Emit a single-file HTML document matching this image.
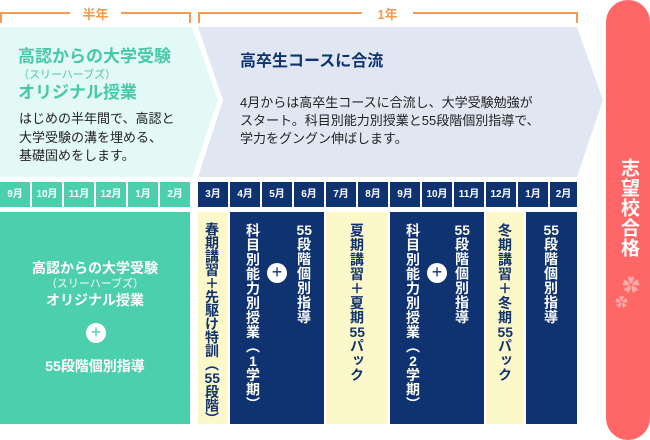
<!DOCTYPE html>
<html><head><meta charset="utf-8"><style>
*{margin:0;padding:0;box-sizing:border-box}
body{width:650px;height:440px;position:relative;background:#fff;font-family:"Liberation Sans","Noto Sans CJK JP",sans-serif;overflow:hidden}
.a{position:absolute}
.m{position:absolute;top:182px;height:25px;width:30px;color:#fff;font-size:10px;font-weight:bold;text-align:center;line-height:25px}
.g{background:#4bcfad}.n{background:#0f3270}.y{background:#fdf8c9}
.v{position:absolute;writing-mode:vertical-rl;text-orientation:upright;font-size:14px;font-weight:bold;line-height:16px;letter-spacing:0.5px;white-space:nowrap}
.tc{text-combine-upright:all}
.pl{position:absolute;width:20px;height:20px;border-radius:50%;background:#fff;color:#0f3270;font-size:18px;line-height:19px;text-align:center}
</style></head><body>
<svg class="a" style="left:0;top:0" width="650" height="440">
<polyline points="1,23 1,13 70,13" fill="none" stroke="#f79a4c" stroke-width="2"/>
<polyline points="121,13 190,13 190,23" fill="none" stroke="#f79a4c" stroke-width="2"/>
<polyline points="199,23 199,13 362,13" fill="none" stroke="#f79a4c" stroke-width="2"/>
<polyline points="413,13 577,13 577,23" fill="none" stroke="#f79a4c" stroke-width="2"/>
<polygon points="0,27 192,27 218,100 192,177 0,177" fill="#e3f9f5"/>
<polygon points="198,27 577,27 603,100 577,177 198,177 223,100" fill="#e0e7f2"/>
</svg>
<div class="a" style="left:70px;top:4px;width:51px;text-align:center;color:#f79a4c;font-size:13px;font-weight:bold">半年</div>
<div class="a" style="left:362px;top:4px;width:51px;text-align:center;color:#f79a4c;font-size:13px;font-weight:bold">1年</div>
<div class="a" style="left:18px;top:46px;color:#47c9a6;font-weight:bold;font-size:17px;line-height:22px">高認からの大学受験<br><span style="font-size:11px;font-weight:normal;line-height:14px;display:block">（スリーハーブズ）</span>オリジナル授業</div>
<div class="a" style="left:19px;top:110px;color:#222;font-size:13px;line-height:18.5px">はじめの半年間で、高認と<br>大学受験の溝を埋める、<br>基礎固めをします。</div>
<div class="a" style="left:240px;top:47px;color:#0f3270;font-weight:bold;font-size:16px">高卒生コースに合流</div>
<div class="a" style="left:240px;top:94px;color:#222;font-size:13px;line-height:18px">4月からは高卒生コースに合流し、大学受験勉強が<br>スタート。科目別能力別授業と55段階個別指導で、<br>学力をグングン伸ばします。</div>

<div class="m g" style="left:0">9月</div><div class="m g" style="left:32px">10月</div><div class="m g" style="left:64px">11月</div><div class="m g" style="left:96px">12月</div><div class="m g" style="left:128px">1月</div><div class="m g" style="left:160px">2月</div>
<div class="m n" style="left:198px">3月</div><div class="m n" style="left:230px">4月</div><div class="m n" style="left:262px">5月</div><div class="m n" style="left:294px">6月</div><div class="m n" style="left:326px">7月</div><div class="m n" style="left:358px">8月</div><div class="m n" style="left:390px">9月</div><div class="m n" style="left:422px">10月</div><div class="m n" style="left:454px">11月</div><div class="m n" style="left:486px">12月</div><div class="m n" style="left:518px">1月</div><div class="m n" style="left:550px;width:27px">2月</div>

<div class="a g" style="left:0;top:212px;width:190px;height:212px"></div>
<div class="a" style="left:0;top:259px;width:190px;text-align:center;color:#fff;font-weight:bold;font-size:14px;line-height:18px">高認からの大学受験<br><span style="font-size:11px;font-weight:normal;line-height:14px;display:block">（スリーハーブズ）</span>オリジナル授業</div>
<div class="pl" style="left:86px;top:323px;color:#4bcfad">+</div>
<div class="a" style="left:0;top:356px;width:190px;text-align:center;color:#fff;font-weight:bold;font-size:14px">55段階個別指導</div>

<div class="a y" style="left:198px;top:212px;width:30px;height:212px"></div>
<div class="a n" style="left:230px;top:212px;width:94px;height:212px"></div>
<div class="a y" style="left:326px;top:212px;width:62px;height:212px"></div>
<div class="a n" style="left:390px;top:212px;width:94px;height:212px"></div>
<div class="a y" style="left:486px;top:212px;width:38px;height:212px"></div>
<div class="a n" style="left:526px;top:212px;width:51px;height:212px"></div>

<div class="v" style="left:205px;top:222px;color:#0f3270;line-height:14px;letter-spacing:-0.5px">春期講習＋先駆け特訓（<span class="tc">55</span>段階）</div>
<div class="v" style="left:245px;top:223px;color:#fff">科目別能力別授業（<span class="tc">1</span>学期）</div>
<div class="pl" style="left:267px;top:263px">+</div>
<div class="v" style="left:296px;top:223px;color:#fff"><span class="tc">55</span>段階個別指導</div>
<div class="v" style="left:349px;top:223px;color:#0f3270">夏期講習＋夏期<span class="tc">55</span>パック</div>
<div class="v" style="left:405px;top:223px;color:#fff">科目別能力別授業（<span class="tc">2</span>学期）</div>
<div class="pl" style="left:427px;top:263px">+</div>
<div class="v" style="left:454px;top:223px;color:#fff"><span class="tc">55</span>段階個別指導</div>
<div class="v" style="left:497px;top:223px;color:#0f3270">冬期講習＋冬期<span class="tc">55</span>パック</div>
<div class="v" style="left:543px;top:223px;color:#fff"><span class="tc">55</span>段階個別指導</div>

<div class="a" style="left:606px;top:0;width:44px;height:440px;border-radius:22px;background:#ff6666"></div>
<div class="v" style="left:617px;top:158px;color:#fff;font-size:19px;line-height:22px;letter-spacing:1px">志望校合格</div>
<div class="a" style="left:622px;top:272px;color:#ffaaaa;font-size:18px">✿</div>
<div class="a" style="left:615px;top:292px;color:#ffaaaa;font-size:13px">✿</div>
</body></html>
